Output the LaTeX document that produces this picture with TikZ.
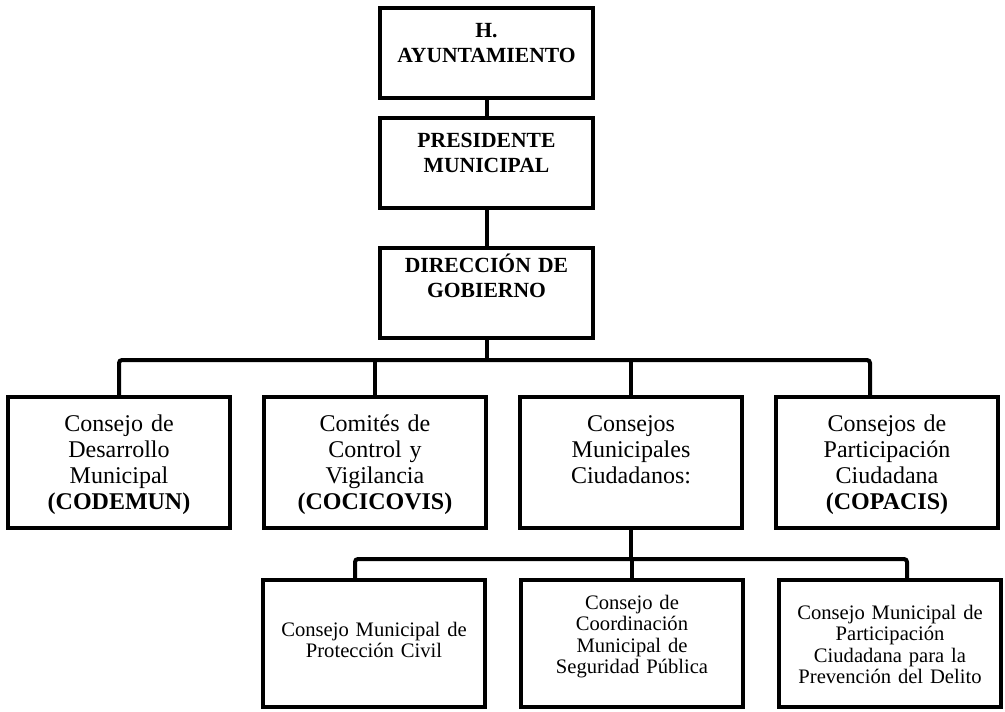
\documentclass[tikz,border=0pt]{standalone}
\usepackage{fontspec}
\setmainfont{Liberation Serif}
\usetikzlibrary{positioning}

\begin{document}
\begin{tikzpicture}[x=0.5pt,y=-0.5pt,
    bx/.style={draw,line width=1.6pt,inner sep=0pt,outer sep=0pt,align=center},
    topb/.style={bx,text width=106.5pt,font=\fontsize{10.8}{12.5}\selectfont\bfseries},
    midb/.style={bx,text width=111pt,text height=17pt,text depth=48.5pt,font=\fontsize{12}{13}\selectfont},
    lowb/.style={bx,text width=111pt,font=\fontsize{10.3}{10.8}\selectfont},
    conn/.style={line width=2pt,rounded corners=1.5pt}]
  \useasboundingbox (0,0) rectangle (1005,711);
  % upper chain
  \node[topb,text height=15pt,text depth=30pt,anchor=north west] (ayu) at (380,8) {H.\\AYUNTAMIENTO};
  \node[topb,text height=15pt,text depth=30pt,below=10pt of ayu] (pres) {PRESIDENTE\\MUNICIPAL};
  \node[topb,text height=12pt,text depth=33pt,below=20pt of pres] (dir) {DIRECCIÓN DE\\GOBIERNO};
  % second row
  \node[midb,anchor=north west] (cdm) at (8,397) {Consejo de\\Desarrollo\\Municipal\\\textbf{(CODEMUN)}};
  \node[midb,right=17pt of cdm] (ccv) {Comités de\\Control y\\Vigilancia\\\textbf{(COCICOVIS)}};
  \node[midb,right=17pt of ccv] (cmc) {Consejos\\Municipales\\Ciudadanos:};
  \node[midb,right=17pt of cmc] (cpc) {Consejos de\\Participación\\Ciudadana\\\textbf{(COPACIS)}};
  % third row
  \node[lowb,text height=28pt,text depth=35.5pt,anchor=north west] (pciv) at (263,580) {Consejo Municipal de\\Protección Civil};
  \node[lowb,text height=14.5pt,text depth=49pt,right=18pt of pciv] (cseg) {Consejo de\\Coordinación\\Municipal de\\Seguridad Pública};
  \node[lowb,text height=19.5pt,text depth=44pt,right=18pt of cseg] (cdel) {Consejo Municipal de\\Participación\\Ciudadana para la\\Prevención del Delito};
  % connectors
  \coordinate (rowA) at (0,360);
  \coordinate (rowB) at (0,559);
  \coordinate (busA) at (dir.south |- rowA);
  \coordinate (busB) at (cmc.south |- rowB);
  \draw[conn] (ayu.south) -- (pres.north);
  \draw[conn] (pres.south) -- (dir.north);
  \draw[conn] (dir.south) -- (busA);
  \draw[conn] (cdm.north) |- (busA) -| ([xshift=-8.5pt]cpc.north);
  \draw[conn] (ccv.north) -- (ccv.north |- busA);
  \draw[conn] (cmc.north) -- (cmc.north |- busA);
  \draw[conn] (cmc.south) -- (busB);
  \draw[conn] ([xshift=-9.5pt]pciv.north) |- (busB) -| ([xshift=8.5pt]cdel.north);
  \draw[conn] (cseg.north) -- (cseg.north |- busB);
\end{tikzpicture}
\end{document}
